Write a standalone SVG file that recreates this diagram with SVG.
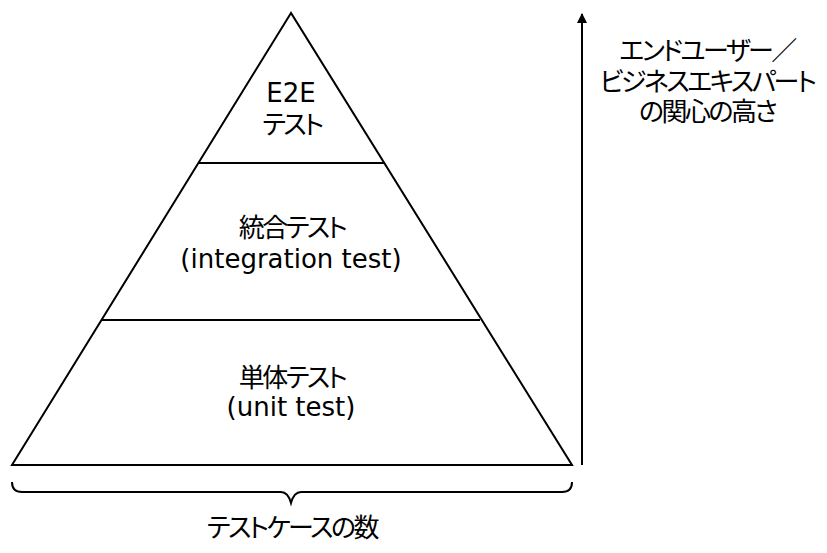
<svg xmlns="http://www.w3.org/2000/svg" width="827" height="553" viewBox="0 0 827 553">
<style>
.ln{stroke:#000;stroke-width:2;fill:none}
.t{font-family:"DejaVu Sans","Noto Sans CJK JP",sans-serif;font-size:26px;fill:#000;text-anchor:middle;font-feature-settings:"palt"}
.j{letter-spacing:-2.5px}
</style>
<defs>
<marker id="ah" viewBox="0 0 10 10" refX="9" refY="5" markerWidth="5" markerHeight="5" orient="auto"><path d="M0,0 L10,5 L0,10 z" fill="#000"/></marker>
</defs>
<rect width="827" height="553" fill="#fff"/>
<g id="pyramid">
<polygon class="ln" points="291,13 12,465 572,465"/>
</g>
<g id="e2e">
<text class="t" x="291" y="102">E2E</text>
<text class="t j" x="292" y="134">テスト</text>
</g>
<g id="integration">
<text class="t j" x="292" y="237">統合テスト</text>
<text class="t" x="291" y="268">(integration test)</text>
</g>
<g id="unit">
<text class="t j" x="292" y="387">単体テスト</text>
<text class="t" x="291" y="416">(unit test)</text>
</g>
<g id="connectors">
<line class="ln" x1="198" y1="163" x2="384" y2="163"/>
<line class="ln" x1="102" y1="320" x2="480" y2="320"/>
<path class="ln" d="M12,482 Q12,492 22,492 L281,492 Q288,492 291,503 Q294,492 301,492 L562,492 Q572,492 572,482"/>
<line class="ln" x1="582" y1="465" x2="582" y2="14" marker-end="url(#ah)"/>
</g>
<g id="count-label">
<text class="t j" x="292" y="537">テストケースの数</text>
</g>
<g id="interest-label">
<text class="t j" x="707" y="60">エンドユーザー／</text>
<text class="t j" x="707" y="91">ビジネスエキスパート</text>
<text class="t j" x="707" y="121">の関心の高さ</text>
</g>
</svg>
